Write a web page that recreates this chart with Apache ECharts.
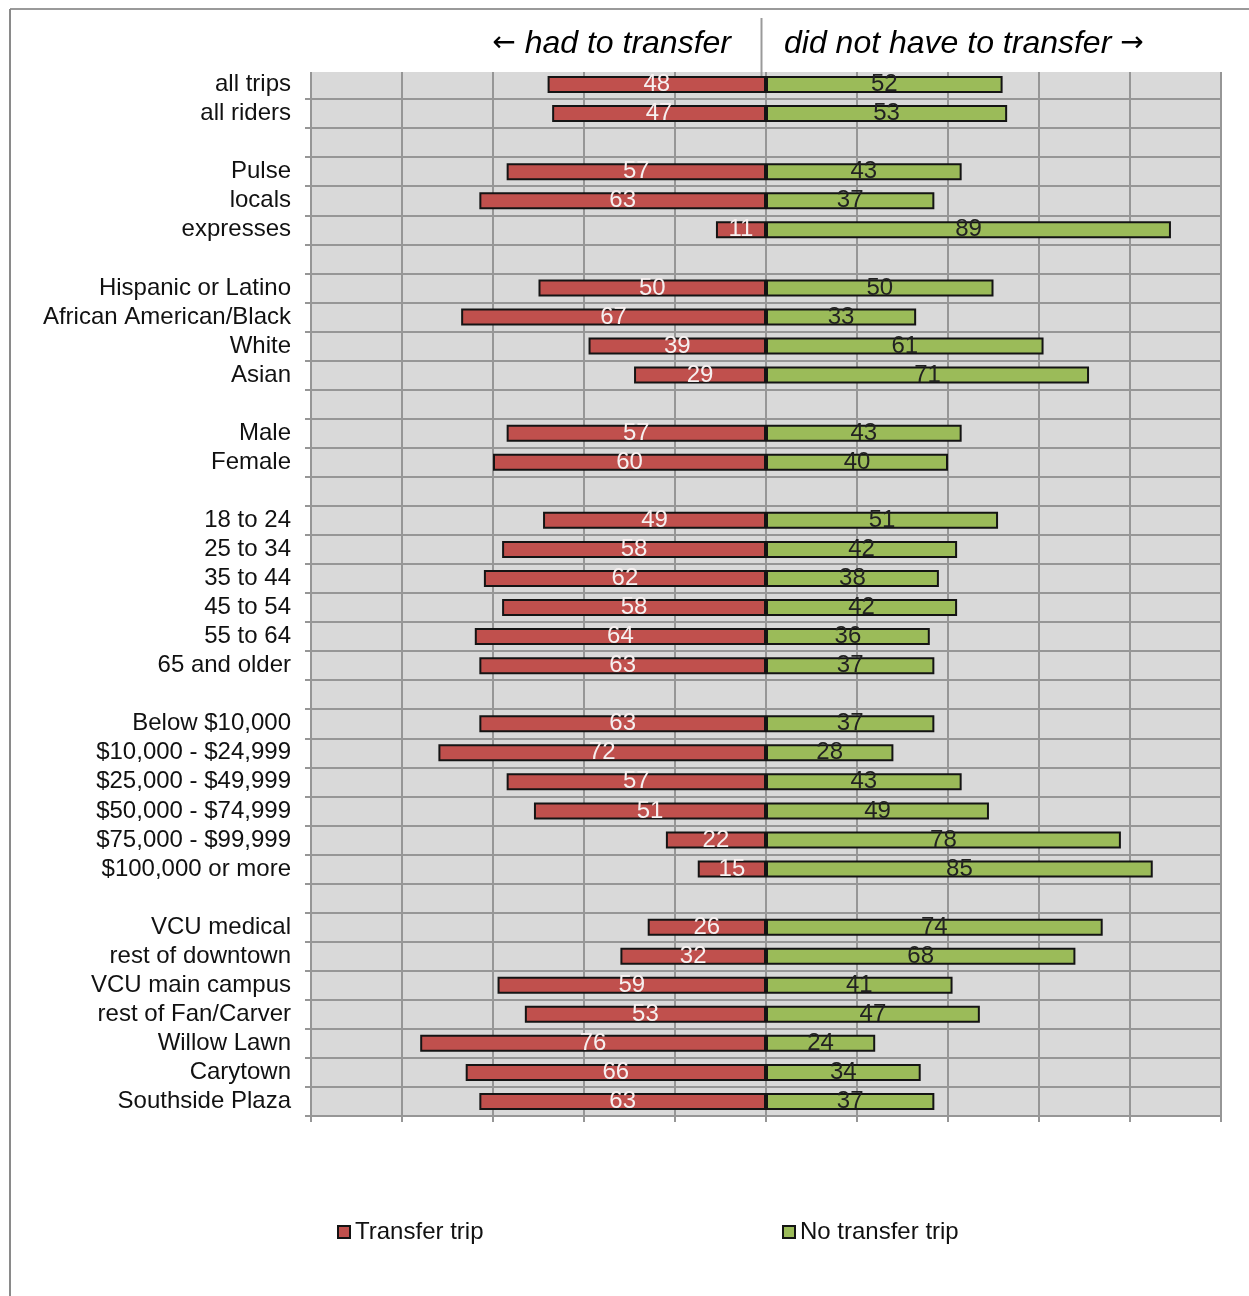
<!DOCTYPE html>
<html>
<head>
<meta charset="utf-8">
<script src="https://cdn.jsdelivr.net/npm/echarts@6/dist/echarts.min.js"></script>
<style>
  html, body { margin: 0; padding: 0; background: #fff; }
  #chart { width: 1249px; height: 1296px; }
</style>
</head>
<body>
<div id="chart"></div>
<script>
// rows top to bottom, "" = spacer row between groups
const categories = [
    "all trips", "all riders", "",
    "Pulse", "locals", "expresses", "",
    "Hispanic or Latino", "African American/Black", "White", "Asian", "",
    "Male", "Female", "",
    "18 to 24", "25 to 34", "35 to 44", "45 to 54", "55 to 64", "65 and older", "",
    "Below $10,000", "$10,000 - $24,999", "$25,000 - $49,999", "$50,000 - $74,999", "$75,000 - $99,999", "$100,000 or more", "",
    "VCU medical", "rest of downtown", "VCU main campus", "rest of Fan/Carver", "Willow Lawn", "Carytown", "Southside Plaza"
];
const transferTrip = [
    48, 47, null,
    57, 63, 11, null,
    50, 67, 39, 29, null,
    57, 60, null,
    49, 58, 62, 58, 64, 63, null,
    63, 72, 57, 51, 22, 15, null,
    26, 32, 59, 53, 76, 66, 63
];
const noTransferTrip = [
    52, 53, null,
    43, 37, 89, null,
    50, 33, 61, 71, null,
    43, 40, null,
    51, 42, 38, 42, 36, 37, null,
    37, 28, 43, 49, 78, 85, null,
    74, 68, 41, 47, 24, 34, 37
];
const seriesNames = ["Transfer trip", "No transfer trip"];

const FONT = '"Liberation Sans", Arial, sans-serif';
const GRID_COLOR = "#969696";

// header arrows drawn in a plain (non italic) font
const arrowStyle = { fontFamily: '"DejaVu Sans", sans-serif', fontStyle: "normal", fontSize: 28, fill: "#000" };

const chart = echarts.init(document.getElementById("chart"));
chart.setOption({
    animation: false,
    textStyle: { fontFamily: FONT },
    grid: {
        left: 311, right: 28, top: 70, bottom: 180,
        show: true, backgroundColor: "#d9d9d9", borderWidth: 0
    },
    legend: [
        {
            data: [seriesNames[0]], left: 332, top: 1215, icon: "rect",
            itemWidth: 12, itemHeight: 12,
            textStyle: { fontSize: 24, color: "#111", fontFamily: FONT }
        },
        {
            data: [seriesNames[1]], left: 777, top: 1215, icon: "rect",
            itemWidth: 12, itemHeight: 12,
            textStyle: { fontSize: 24, color: "#111", fontFamily: FONT }
        }
    ],
    xAxis: {
        type: "value", min: -100, max: 100, interval: 20,
        axisLabel: { show: false },
        axisLine: { show: true, lineStyle: { color: GRID_COLOR, width: 2 } },
        axisTick: { show: true, length: 6, lineStyle: { color: GRID_COLOR, width: 2 } },
        splitLine: { show: true, lineStyle: { color: GRID_COLOR, width: 2 } }
    },
    yAxis: {
        type: "category", inverse: true, data: categories,
        axisLine: { show: true, onZero: false, lineStyle: { color: GRID_COLOR, width: 2 } },
        axisTick: { show: true, interval: 0, length: 6, lineStyle: { color: GRID_COLOR, width: 2 } },
        axisLabel: { interval: 0, margin: 20, fontSize: 24, color: "#111", fontFamily: FONT },
        splitLine: { show: true, interval: 0, lineStyle: { color: GRID_COLOR, width: 2 } }
    },
    series: [
        {
            name: seriesNames[0], type: "bar", stack: "total", barWidth: 17,
            data: transferTrip.map(v => v == null ? null : -v),
            itemStyle: { color: "#c0504d", borderColor: "#141414", borderWidth: 2 },
            label: {
                show: true, position: "inside", fontSize: 24, color: "#f6f0f0", fontFamily: FONT,
                formatter: p => Math.abs(p.value)
            }
        },
        {
            name: seriesNames[1], type: "bar", stack: "total", barWidth: 17,
            data: noTransferTrip,
            itemStyle: { color: "#9bbb59", borderColor: "#141414", borderWidth: 2 },
            label: {
                show: true, position: "inside", fontSize: 24, color: "#222", fontFamily: FONT
            }
        }
    ],
    graphic: [
        // outer frame (top and left edge of the clipped picture)
        { type: "line", z: 110, shape: { x1: 10, y1: 9, x2: 1249, y2: 9 }, style: { stroke: "#9a9a9a", lineWidth: 2 } },
        { type: "line", z: 110, shape: { x1: 10, y1: 9, x2: 10, y2: 1296 }, style: { stroke: "#8a8a8a", lineWidth: 2 } },
        // header box hiding the plot's top edge
        { type: "rect", z: 100, shape: { x: 300, y: 14, width: 935, height: 58 }, style: { fill: "#fff" } },
        { type: "line", z: 110, shape: { x1: 761.5, y1: 18, x2: 761.5, y2: 76 }, style: { stroke: "#9a9a9a", lineWidth: 2 } },
        {
            type: "text", z: 110, x: 731, y: 44,
            style: {
                text: "{a|\u2190} had to transfer", align: "right", verticalAlign: "middle",
                fontSize: 32, fontStyle: "italic", fontFamily: FONT, fill: "#000",
                rich: { a: arrowStyle }
            }
        },
        {
            type: "text", z: 110, x: 784, y: 44,
            style: {
                text: "did not have to transfer {a|\u2192}", align: "left", verticalAlign: "middle",
                fontSize: 32, fontStyle: "italic", fontFamily: FONT, fill: "#000",
                rich: { a: arrowStyle }
            }
        }
    ]
});
</script>
</body>
</html>
